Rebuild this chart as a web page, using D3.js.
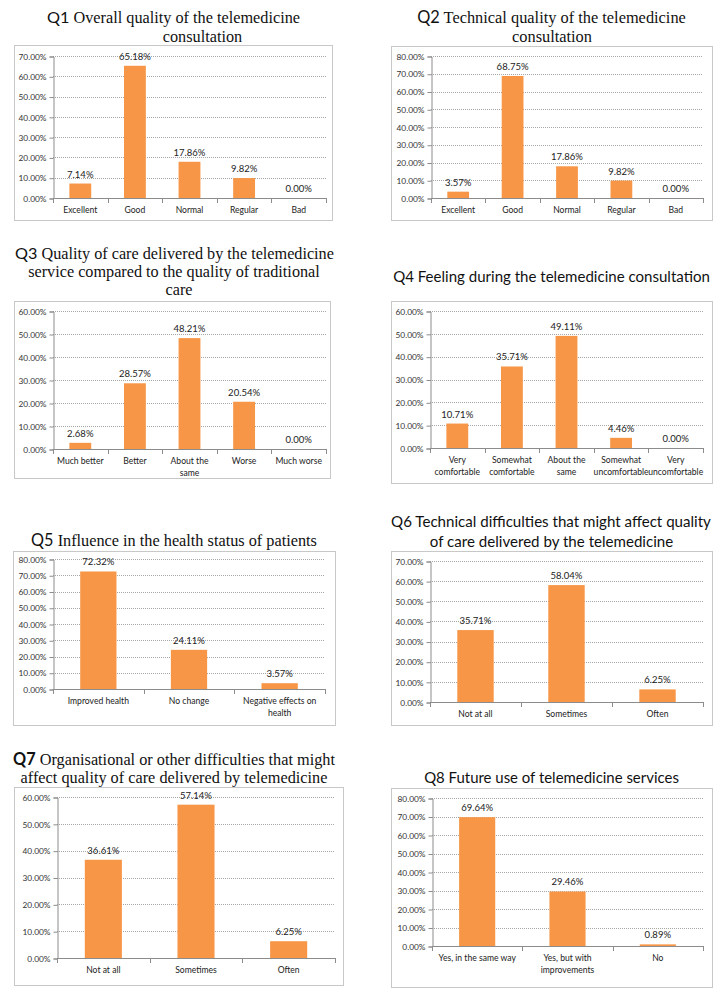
<!DOCTYPE html>
<html>
<head>
<meta charset="utf-8">
<script src="https://cdn.jsdelivr.net/npm/d3@7"></script>
<style>
  html, body { margin: 0; padding: 0; background: #fff; }
  svg { display: block; }
</style>
</head>
<body>
<svg id="chart" width="724" height="998"></svg>
<script>
// ---------- DATA ----------
const q1Title = ["Q1 Overall quality of the telemedicine", "consultation"];
const q1Categories = ["Excellent", "Good", "Normal", "Regular", "Bad"];
const q1Values = [7.14, 65.18, 17.86, 9.82, 0.00];
const q1Max = 70;

const q2Title = ["Q2 Technical quality of the telemedicine", "consultation"];
const q2Categories = ["Excellent", "Good", "Normal", "Regular", "Bad"];
const q2Values = [3.57, 68.75, 17.86, 9.82, 0.00];
const q2Max = 80;

const q3Title = ["Q3 Quality of care delivered by the telemedicine", "service compared to the quality of traditional", "care"];
const q3Categories = ["Much better", "Better", "About the same", "Worse", "Much worse"];
const q3Values = [2.68, 28.57, 48.21, 20.54, 0.00];
const q3Max = 60;

const q4Title = ["Q4 Feeling during the telemedicine consultation"];
const q4Categories = ["Very comfortable", "Somewhat comfortable", "About the same", "Somewhat uncomfortable", "Very uncomfortable"];
const q4Values = [10.71, 35.71, 49.11, 4.46, 0.00];
const q4Max = 60;

const q5Title = ["Q5 Influence in the health status of patients"];
const q5Categories = ["Improved health", "No change", "Negative effects on health"];
const q5Values = [72.32, 24.11, 3.57];
const q5Max = 80;

const q6Title = ["Q6 Technical difficulties that might affect quality", "of care delivered by the telemedicine"];
const q6Categories = ["Not at all", "Sometimes", "Often"];
const q6Values = [35.71, 58.04, 6.25];
const q6Max = 70;

const q7Title = ["Q7 Organisational or other difficulties that might", "affect quality of care delivered by telemedicine"];
const q7Categories = ["Not at all", "Sometimes", "Often"];
const q7Values = [36.61, 57.14, 6.25];
const q7Max = 60;

const q8Title = ["Q8 Future use of telemedicine services"];
const q8Categories = ["Yes, in the same way", "Yes, but with improvements", "No"];
const q8Values = [69.64, 29.46, 0.89];
const q8Max = 80;

const tickStep = 10;

// ---------- LAYOUT (positions / styles) ----------
const SERIF = "'Liberation Serif', 'Times New Roman', serif";
const SANS = "Lato, 'Open Sans', sans-serif";

// tlines: [x0, x1, baseline]  (reference extent of each title line; first line sets the size)
const panels = [
  { title: q1Title, cats: q1Categories, vals: q1Values, max: q1Max, serif: true, boldQ: false,
    box: [14, 45, 332, 220], plot: [53, 56, 326, 198],
    tlines: [[49, 298, 23], [163, 242, 42]] },
  { title: q2Title, cats: q2Categories, vals: q2Values, max: q2Max, serif: true, boldQ: false,
    box: [391, 46, 712, 220], plot: [431, 56, 703, 198],
    tlines: [[419, 684, 23], [512, 592, 42]] },
  { title: q3Title, cats: q3Categories, vals: q3Values, max: q3Max, serif: true, boldQ: false,
    box: [14, 301, 330, 478], plot: [53, 311, 326, 449],
    tlines: [[17, 332, 259], [28, 320, 277], [166, 192, 295]] },
  { title: q4Title, cats: q4Categories, vals: q4Values, max: q4Max, serif: false,
    box: [391, 301, 712, 483], plot: [430, 311, 703, 448],
    tlines: [[393, 710, 282]] },
  { title: q5Title, cats: q5Categories, vals: q5Values, max: q5Max, serif: true, boldQ: false,
    box: [13, 551, 335, 725], plot: [53, 559, 325, 689],
    tlines: [[33, 315, 546]] },
  { title: q6Title, cats: q6Categories, vals: q6Values, max: q6Max, serif: false,
    box: [391, 551, 712, 725], plot: [430, 561, 703, 702],
    tlines: [[391, 711, 527], [429, 674, 547]] },
  { title: q7Title, cats: q7Categories, vals: q7Values, max: q7Max, serif: true, boldQ: true,
    box: [14, 787, 343, 985], plot: [57, 797, 335, 958],
    tlines: [[15, 333, 765], [20, 328, 783]] },
  { title: q8Title, cats: q8Categories, vals: q8Values, max: q8Max, serif: false,
    box: [391, 788, 712, 987], plot: [432, 798, 703, 946],
    tlines: [[424, 679, 783]] }
];

const BAR = "#F79646";
const AXIS = "#8c8c8c";
const svg = d3.select("#chart");

// measure helper to size fonts to the reference text extents
const meas = svg.append("text").attr("x", -1000).attr("y", -1000);
function measure(str, family, size, weight) {
  meas.attr("font-family", family).attr("font-size", size).attr("font-weight", weight || "normal").text(str);
  return meas.node().getComputedTextLength();
}
const tickSize = 8.6 * 28 / measure("70.00%", SANS, 8.6);
const dataSize = 10 * 32 / measure("65.18%", SANS, 10);
const catSize = 9 * 34 / measure("Excellent", SANS, 9);

function wrapLabel(textSel, label, maxW, x, y, lh) {
  const words = label.split(" ");
  const lines = [];
  let cur = [];
  words.forEach(w => {
    const test = cur.concat([w]).join(" ");
    if (measure(test, SANS, catSize) > maxW && cur.length) {
      lines.push(cur.join(" "));
      cur = [w];
    } else {
      cur.push(w);
    }
  });
  if (cur.length) lines.push(cur.join(" "));
  lines.forEach((l, i) => {
    textSel.append("tspan").attr("x", x).attr("y", y + i * lh).text(l);
  });
}

function titleSegs(p, line, i) {
  if (p.serif && i === 0) {
    const sp = line.indexOf(" ");
    return [
      { t: line.slice(0, sp), f: SANS, w: p.boldQ ? "bold" : "normal" },
      { t: line.slice(sp), f: SERIF, w: "normal" }
    ];
  }
  return [{ t: line, f: p.serif ? SERIF : SANS, w: "normal" }];
}

panels.forEach(p => {
  const g = svg.append("g");
  const [bx0, by0, bx1, by1] = p.box;
  const [px0, py0, px1, py1] = p.plot;

  // box
  g.append("rect")
    .attr("x", bx0 + 0.5).attr("y", by0 + 0.5)
    .attr("width", bx1 - bx0).attr("height", by1 - by0)
    .attr("fill", "#fff").attr("stroke", "#c8c8c8").attr("stroke-width", 1);

  // title: font size from first line's reference width, each line centred on its reference centre
  const base = 16;
  const first = titleSegs(p, p.title[0], 0);
  const size = base * (p.tlines[0][1] - p.tlines[0][0]) / d3.sum(first, s => measure(s.t, s.f, base, s.w));
  p.title.forEach((line, i) => {
    const [tx0, tx1, ty] = p.tlines[i];
    const segs = titleSegs(p, line, i);
    const t = g.append("text")
      .attr("x", (tx0 + tx1) / 2).attr("y", ty)
      .attr("text-anchor", "middle")
      .attr("font-size", size)
      .attr("fill", "#111")
      .style("white-space", "pre");
    segs.forEach(s => {
      t.append("tspan").attr("font-family", s.f).attr("font-weight", s.w).text(s.t);
    });
  });

  const x = d3.scaleBand().domain(p.cats).range([px0, px1]).paddingInner(0.6).paddingOuter(0.3);
  const xb = d3.scaleBand().domain(p.cats).range([px0, px1]);
  const y = d3.scaleLinear().domain([0, p.max]).range([py1, py0]);
  const ticks = d3.range(0, p.max + 0.001, tickStep);

  // gridlines
  g.append("g").selectAll("line").data(ticks.filter(t => t > 0)).join("line")
    .attr("x1", px0).attr("x2", px1)
    .attr("y1", d => Math.round(y(d)) + 0.5).attr("y2", d => Math.round(y(d)) + 0.5)
    .attr("stroke", "#a6a6a6").attr("stroke-width", 1).attr("stroke-dasharray", "1,1");

  // y axis
  const yAxis = d3.axisLeft(y).tickValues(ticks).tickSize(4).tickPadding(3)
    .tickFormat(d => d.toFixed(2) + "%");
  const ya = g.append("g").attr("transform", `translate(${px0 + 0.5},0.5)`).call(yAxis);
  ya.select(".domain").attr("stroke", AXIS);
  ya.selectAll(".tick line").attr("stroke", AXIS);
  ya.selectAll(".tick text").attr("font-family", SANS).attr("font-size", tickSize).attr("fill", "#333");

  // bars
  g.append("g").selectAll("rect").data(p.vals).join("rect")
    .attr("x", (d, i) => x(p.cats[i]))
    .attr("width", x.bandwidth())
    .attr("y", d => y(d))
    .attr("height", d => y(0) - y(d))
    .attr("fill", BAR);

  // x axis line + ticks at category boundaries
  g.append("line")
    .attr("x1", px0).attr("x2", px1)
    .attr("y1", Math.round(y(0)) + 0.5).attr("y2", Math.round(y(0)) + 0.5)
    .attr("stroke", AXIS);
  const bounds = p.cats.map(c => xb(c)).concat([px1]);
  g.append("g").selectAll("line").data(bounds).join("line")
    .attr("x1", d => Math.round(d) + 0.5).attr("x2", d => Math.round(d) + 0.5)
    .attr("y1", Math.round(y(0))).attr("y2", Math.round(y(0)) + 5)
    .attr("stroke", AXIS);

  // category labels
  p.cats.forEach(c => {
    const t = g.append("text")
      .attr("text-anchor", "middle")
      .attr("font-family", SANS).attr("font-size", catSize)
      .attr("fill", "#222");
    wrapLabel(t, c, xb.bandwidth() * 0.98, xb(c) + xb.bandwidth() / 2, y(0) + 15, 12);
  });

  // data labels
  g.append("g").selectAll("text").data(p.vals).join("text")
    .attr("x", (d, i) => x(p.cats[i]) + x.bandwidth() / 2)
    .attr("y", d => y(d) - 6)
    .attr("text-anchor", "middle")
    .attr("font-family", SANS).attr("font-size", dataSize)
    .attr("fill", "#222")
    .text(d => d.toFixed(2) + "%");
});
meas.remove();
</script>
</body>
</html>
